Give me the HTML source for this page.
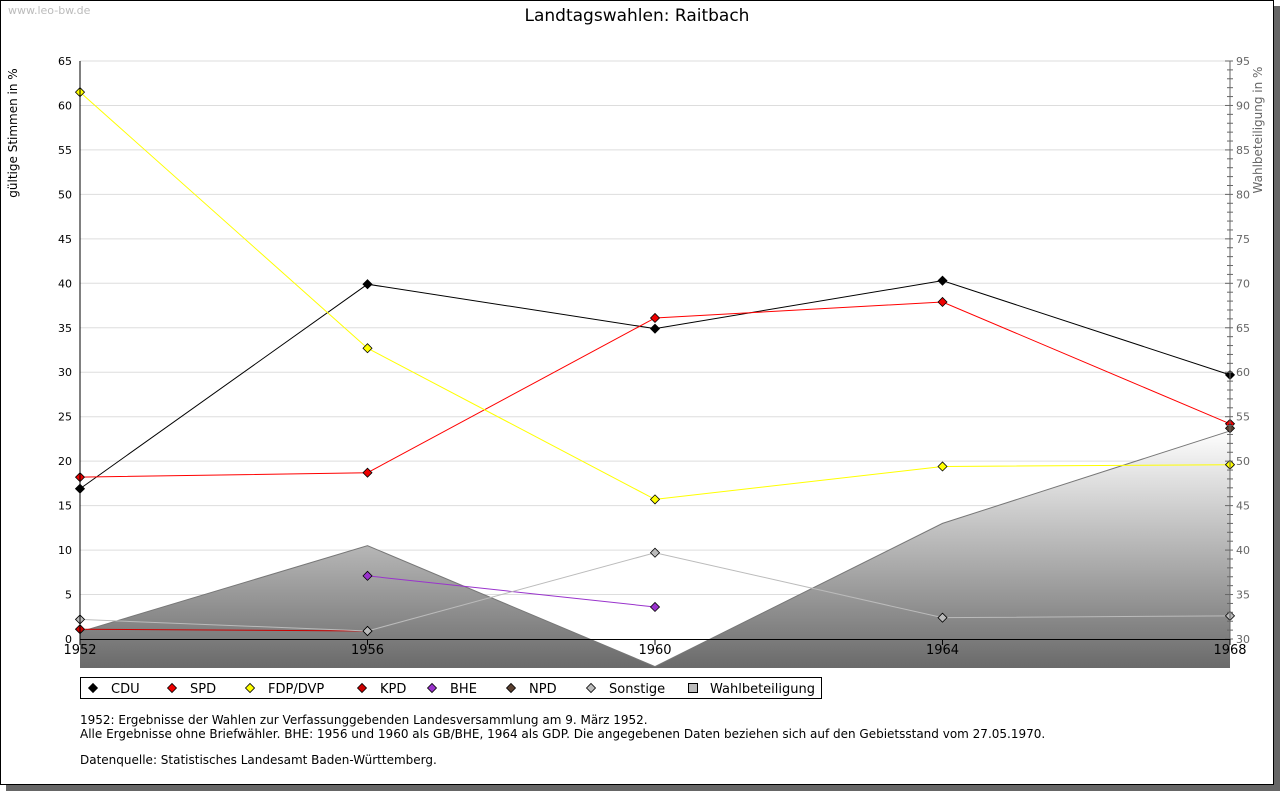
<!DOCTYPE html>
<html><head><meta charset="utf-8"><style>
body{margin:0;background:#fff;width:1280px;height:791px;overflow:hidden;font-family:"Liberation Sans","DejaVu Sans",sans-serif}
</style></head><body>
<svg width="1280" height="791" xmlns="http://www.w3.org/2000/svg" font-family="'DejaVu Sans','Liberation Sans',sans-serif">
<defs>
<linearGradient id="g" x1="0" y1="430" x2="0" y2="668" gradientUnits="userSpaceOnUse">
<stop offset="0" stop-color="#ffffff"/><stop offset="1" stop-color="#6a6a6a"/></linearGradient>
</defs>
<rect x="6" y="6" width="1274" height="785" fill="#666"/>
<rect x="0.5" y="0.5" width="1273" height="784" fill="#fff" stroke="#000"/>
<text x="8" y="14" font-size="11" fill="#bbb">www.leo-bw.de</text>
<text x="637" y="21" font-size="17" text-anchor="middle">Landtagswahlen: Raitbach</text>
<text transform="translate(17,133) rotate(-90)" font-size="12" text-anchor="middle">gültige Stimmen in %</text>
<text transform="translate(1262,130) rotate(-90)" font-size="12" fill="#666" text-anchor="middle">Wahlbeteiligung in %</text>
<g id="grid"></g><g id="area"></g><g id="series"></g><g id="axes"></g>
<rect x="80.5" y="677.5" width="741" height="21" fill="#fff" stroke="#000"/>
<g id="legend" font-size="13"></g>
<g font-size="12">
<text x="80" y="724">1952: Ergebnisse der Wahlen zur Verfassunggebenden Landesversammlung am 9. März 1952.</text>
<text x="80" y="738">Alle Ergebnisse ohne Briefwähler. BHE: 1956 und 1960 als GB/BHE, 1964 als GDP. Die angegebenen Daten beziehen sich auf den Gebietsstand vom 27.05.1970.</text>
<text x="80" y="764">Datenquelle: Statistisches Landesamt Baden-Württemberg.</text>
</g>
</svg>
<script>
const years=[1952,1956,1960,1964,1968];
const cdu=[16.9,39.9,34.9,40.3,29.7];
const spd=[18.2,18.7,36.1,37.9,24.2];
const fdp=[61.5,32.7,15.7,19.4,19.6];
const kpd=[1.1,0.9,null,null,null];
const bhe=[null,7.1,3.6,null,null];
const npd=[null,null,null,null,23.7];
const sonst=[2.2,0.9,9.7,2.4,2.6];
const turnout=[30.8,40.5,26.9,43.0,53.4];
const leftTicks=[0,5,10,15,20,25,30,35,40,45,50,55,60,65];
const rightTicks=[30,35,40,45,50,55,60,65,70,75,80,85,90,95];
const NS='http://www.w3.org/2000/svg';
const X=y=>80+(y-1952)/16*1150;
const Y=v=>639-v/65*578;
const Y2=v=>639-(v-30)/65*578;
function mk(p,t,a){const e=document.createElementNS(NS,t);for(const k in a)e.setAttribute(k,a[k]);document.getElementById(p).appendChild(e);return e;}
leftTicks.forEach(v=>{
 if(v>0){const l=mk('grid','line',{x1:80,x2:1230,y1:Y(v),y2:Y(v),stroke:'#ddd'});
 
 }
 const t=mk('axes','text',{x:72,y:Y(v)+4,'font-size':11,'text-anchor':'end'});t.textContent=v;
 
 
});
rightTicks.forEach(v=>{
 const t=mk('axes','text',{x:1236,y:Y2(v)+4,'font-size':11,fill:'#666'});t.textContent=v;
 
 
});
for(let v=30;v<=95;v++){mk('axes','line',{x1:v%5?1227:1225,x2:1233,y1:Y2(v),y2:Y2(v),stroke:'#666'});}
mk('axes','line',{x1:1230,x2:1230,y1:61,y2:639,stroke:'#666'});
mk('axes','line',{x1:80,x2:80,y1:61,y2:639,stroke:'#000'});
mk('axes','line',{x1:80,x2:1230,y1:639.5,y2:639.5,stroke:'#000'});
years.forEach(y=>{mk('axes','line',{x1:X(y),x2:X(y),y1:639,y2:645,stroke:'#000'});
 const t=mk('axes','text',{x:X(y),y:654,'font-size':13,'text-anchor':'middle'});t.textContent=y;
 
 });
let d='M'+X(years[0])+',668 '+years.map((y,i)=>'L'+X(y)+','+Y2(turnout[i])).join(' ')+' L'+X(years[4])+',668Z';
const ar=mk('area','path',{d:d,fill:'url(#g)'});


const tl=mk('area','polyline',{points:years.map((y,i)=>X(y)+','+Y2(turnout[i])).join(' '),fill:'none',stroke:'#777'});


const S=[['cdu',cdu,'#000','#000'],['spd',spd,'#f00','#e00'],['fdp',fdp,'#ff0','#ff0'],['kpd',kpd,'#c00','#c00'],['bhe',bhe,'#93c','#93c'],['npd',npd,'#664433','#5a4030'],['sonstige',sonst,'#bbb','#bbb']];
S.forEach(([n,arr,lc,fc])=>{
 const pts=[];arr.forEach((v,i)=>{if(v!=null)pts.push([X(years[i]),Y(v)]);});
 if(pts.length>1){const l=mk('series','polyline',{points:pts.map(p=>p.join(',')).join(' '),fill:'none',stroke:lc});
 
 }
 pts.forEach(p=>{const m=mk('series','path',{d:`M${p[0]-4.5},${p[1]}L${p[0]},${p[1]-4.5}L${p[0]+4.5},${p[1]}L${p[0]},${p[1]+4.5}Z`,fill:fc,stroke:'#000','stroke-width':0.8});
 
 });
});
const L=[['CDU','#000',93],['SPD','#e00',172],['FDP/DVP','#ff0','250'],['KPD','#c00',362],['BHE','#93c',432],['NPD','#5a4030',511],['Sonstige','#bbb',591]];
L.forEach(([n,c,x])=>{x=+x;
 const m=mk('legend','path',{d:`M${x-4.5},688L${x},683.5L${x+4.5},688L${x},692.5Z`,fill:c,stroke:'#000','stroke-width':0.8});
 
 
 const t=mk('legend','text',{x:x+18,y:693});t.textContent=n;
 
 });
const r=mk('legend','rect',{x:688.5,y:683.5,width:9,height:9,fill:'#bbb',stroke:'#000'});


const t=mk('legend','text',{x:710,y:693});t.textContent='Wahlbeteiligung';


</script>
</body></html>
